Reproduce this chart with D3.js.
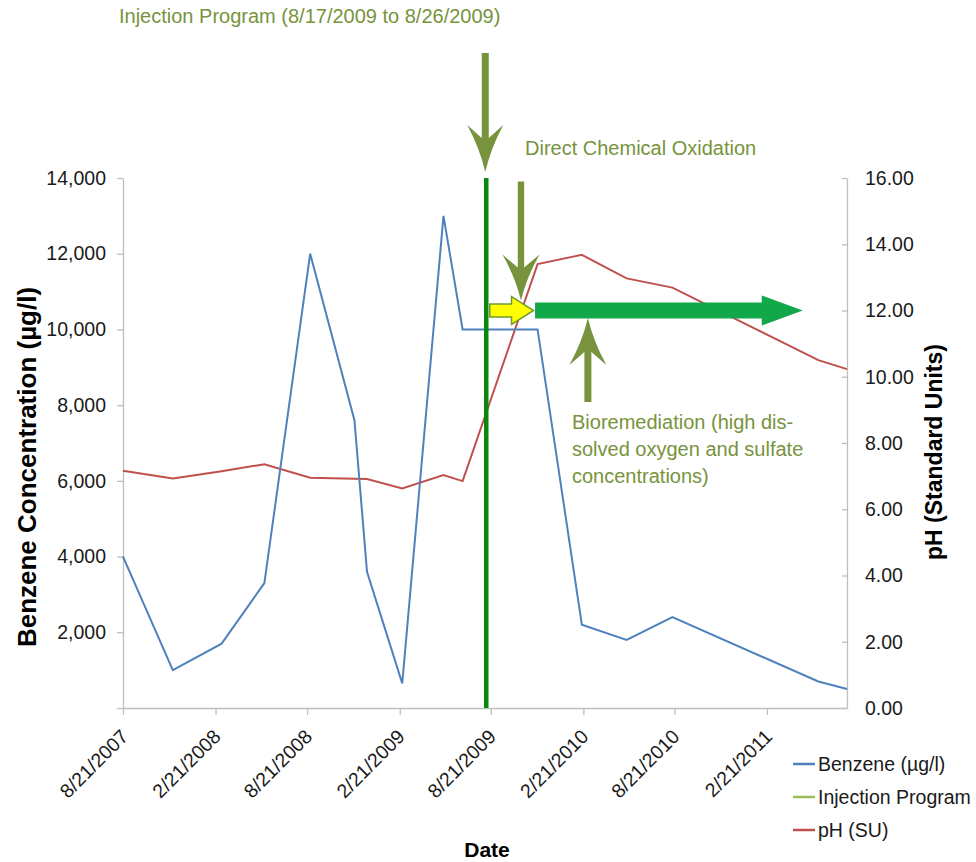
<!doctype html>
<html>
<head>
<meta charset="utf-8">
<script src="https://d3js.org/d3.v7.min.js"></script>
<style>
  body { margin: 0; background: #fff; }
  svg text { font-family: "Liberation Sans", Arial, sans-serif; }
</style>
</head>
<body>
<svg width="976" height="862"></svg>
<script>
var sampleDates = ["2007-08-21", "2007-11-28", "2008-03-04", "2008-05-28", "2008-08-27",
                   "2008-11-23", "2008-12-18", "2009-02-26", "2009-05-19", "2009-06-26",
                   "2009-11-22", "2010-02-18", "2010-05-18", "2010-08-17", "2011-06-03", "2011-07-30"];
var benzene = [4000, 1000, 1700, 3300, 12000, 7600, 3600, 650, 13000, 10000,
               10000, 2200, 1800, 2400, 700, 500];
var ph = [7.16, 6.93, 7.15, 7.36, 6.95, 6.92, 6.91, 6.63, 7.03, 6.85,
          13.4, 13.68, 12.97, 12.69, 10.5, 10.23];
var injectionDate = "2009-08-12";
var injectionRange = [0, 14000];

var dateTicks = ["2007-08-21", "2008-02-21", "2008-08-21", "2009-02-21",
                 "2009-08-21", "2010-02-21", "2010-08-21", "2011-02-21"];
var benzeneTicks = [0, 2000, 4000, 6000, 8000, 10000, 12000, 14000];
var phTicks = [0, 2, 4, 6, 8, 10, 12, 14, 16];

var seriesNames = ["Benzene (\u00b5g/l)", "Injection Program", "pH (SU)"];
var seriesColors = ["#4f81bd", "#9bbb59", "#c0504d"];

// annotation anchors: dates on the x axis, pH on the right axis
var treatmentDates = { yellowStart: "2009-08-19", yellowEnd: "2009-11-14",
                       greenStart: "2009-11-17", greenEnd: "2011-05-03",
                       dcoArrow: "2009-10-20", bioArrow: "2010-03-02" };
var treatmentPh = 12;

var parse = d3.timeParse("%Y-%m-%d");
var svg = d3.select("svg"),
    plotLeft = 123, plotRight = 847, plotTop = 178, plotBottom = 708,
    olive = "#77933c";

var x = d3.scaleTime()
    .domain([parse(sampleDates[0]), parse(sampleDates[sampleDates.length - 1])])
    .range([plotLeft, plotRight]);
var yL = d3.scaleLinear().domain([0, 14000]).range([plotBottom, plotTop]);
var yR = d3.scaleLinear().domain([0, 16]).range([plotBottom, plotTop]);

// axes
var gx = svg.append("g")
    .attr("transform", "translate(0," + plotBottom + ")")
    .call(d3.axisBottom(x)
        .tickValues(dateTicks.map(parse))
        .tickFormat(d3.timeFormat("%-m/%-d/%Y"))
        .tickSize(7).tickSizeOuter(0));
gx.selectAll("text")
    .attr("y", 0).attr("dy", "0.35em")
    .attr("text-anchor", "end")
    .attr("transform", "translate(1,25) rotate(-45)");

var gl = svg.append("g")
    .attr("transform", "translate(" + plotLeft + ",0)")
    .call(d3.axisLeft(yL)
        .tickValues(benzeneTicks)
        .tickFormat(function(d) { return d === 0 ? "" : d3.format(",")(d); })
        .tickSize(6).tickPadding(11).tickSizeOuter(0));

var gr = svg.append("g")
    .attr("transform", "translate(" + plotRight + ",0)")
    .call(d3.axisRight(yR)
        .tickValues(phTicks)
        .tickFormat(d3.format(".2f"))
        .tickSize(-5).tickPadding(18).tickSizeOuter(0));

[gx, gl, gr].forEach(function(g) {
    g.selectAll("path, line").attr("stroke", "#bfbfbf").attr("stroke-width", 1.3);
    g.selectAll("text").attr("font-size", "19.5px").attr("fill", "#1a1a1a")
        .attr("font-family", "Liberation Sans, Arial, sans-serif");
});

// axis titles
svg.append("text")
    .attr("transform", "translate(36,467) rotate(-90)")
    .attr("text-anchor", "middle")
    .attr("font-size", "26px").attr("font-weight", "bold")
    .text("Benzene Concentration (\u00b5g/l)");
svg.append("text")
    .attr("transform", "translate(942,452) rotate(-90)")
    .attr("text-anchor", "middle")
    .attr("font-size", "23px").attr("font-weight", "bold")
    .text("pH (Standard Units)");
svg.append("text")
    .attr("x", 487).attr("y", 857)
    .attr("text-anchor", "middle")
    .attr("font-size", "21px").attr("font-weight", "bold")
    .text("Date");

// series
var data = sampleDates.map(function(d, i) {
    return { date: parse(d), b: benzene[i], p: ph[i] };
});

svg.append("path")
    .datum(data)
    .attr("fill", "none")
    .attr("stroke", seriesColors[2])
    .attr("stroke-width", 2)
    .attr("d", d3.line().x(function(d) { return x(d.date); }).y(function(d) { return yR(d.p); }));

svg.append("path")
    .datum(data)
    .attr("fill", "none")
    .attr("stroke", seriesColors[0])
    .attr("stroke-width", 2)
    .attr("d", d3.line().x(function(d) { return x(d.date); }).y(function(d) { return yL(d.b); }));

// injection program marker line
svg.append("path")
    .datum(injectionRange)
    .attr("fill", "none")
    .attr("stroke", "#0a870f")
    .attr("stroke-width", 4.5)
    .attr("d", d3.line().x(function() { return x(parse(injectionDate)); }).y(function(d) { return yL(d); }));

// block arrow pointing right
function blockArrow(x0, x1, yc, sh, hh, hl, fill, stroke) {
    var p = d3.path();
    p.moveTo(x0, yc - sh);
    p.lineTo(x1 - hl, yc - sh);
    p.lineTo(x1 - hl, yc - hh);
    p.lineTo(x1, yc);
    p.lineTo(x1 - hl, yc + hh);
    p.lineTo(x1 - hl, yc + sh);
    p.lineTo(x0, yc + sh);
    p.closePath();
    svg.append("path").attr("d", p.toString())
        .attr("fill", fill)
        .attr("stroke", stroke || "none")
        .attr("stroke-width", 1.5)
        .attr("stroke-linejoin", "miter");
}

// barbed olive arrow; dir = 1 points down, -1 points up
function barbArrow(cx, tipY, dir, len, sw, hw, hl) {
    var s = dir;
    var p = d3.path();
    p.moveTo(cx - sw, tipY - s * len);
    p.lineTo(cx - sw, tipY - s * (hl - 13));
    p.lineTo(cx - hw, tipY - s * hl);
    p.quadraticCurveTo(cx - hw * 0.3, tipY - s * hl * 0.5, cx, tipY);
    p.quadraticCurveTo(cx + hw * 0.3, tipY - s * hl * 0.5, cx + hw, tipY - s * hl);
    p.lineTo(cx + sw, tipY - s * (hl - 13));
    p.lineTo(cx + sw, tipY - s * len);
    p.closePath();
    svg.append("path").attr("d", p.toString()).attr("fill", olive);
}

var yArrow = yR(treatmentPh);
blockArrow(x(parse(treatmentDates.greenStart)), x(parse(treatmentDates.greenEnd)), yArrow, 8, 15, 41, "#12a84a");
blockArrow(x(parse(treatmentDates.yellowStart)), x(parse(treatmentDates.yellowEnd)), yArrow, 6.5, 14, 22, "#ffff00", "#6f9a2c");

barbArrow(x(parse(injectionDate)) - 1, plotTop - 6, 1, 119, 3.5, 18, 47);
barbArrow(x(parse(treatmentDates.dcoArrow)), yR(12.3), 1, 119, 3.2, 18.5, 46);
barbArrow(x(parse(treatmentDates.bioArrow)), yR(11.77), -1, 84, 3.5, 18.5, 47);

// annotation text
function note(tx, ty, str) {
    svg.append("text").attr("x", tx).attr("y", ty)
        .attr("font-size", "20px").attr("fill", olive).text(str);
}
note(119, 23, "Injection Program (8/17/2009 to 8/26/2009)");
note(525, 155, "Direct Chemical Oxidation");
note(572, 429, "Bioremediation (high dis-");
note(572, 456, "solved oxygen and sulfate");
note(572, 483, "concentrations)");

// legend
var legend = svg.append("g").selectAll("g")
    .data(seriesNames)
    .enter().append("g")
    .attr("transform", function(d, i) { return "translate(793," + (764 + i * 33) + ")"; });
legend.append("line")
    .attr("x1", 0).attr("x2", 22)
    .attr("stroke", function(d, i) { return seriesColors[i]; })
    .attr("stroke-width", 2.5);
legend.append("text")
    .attr("x", 25).attr("y", 7)
    .attr("font-size", "19.5px").attr("fill", "#1a1a1a")
    .text(function(d) { return d; });
</script>
</body>
</html>
